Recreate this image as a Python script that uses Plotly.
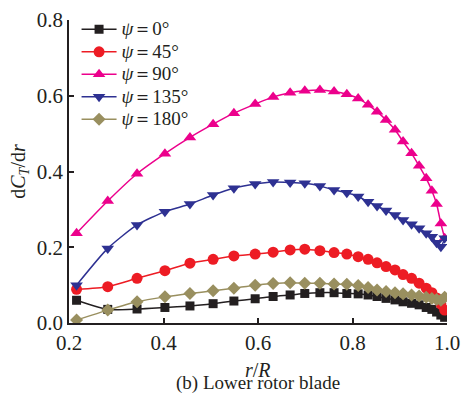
import plotly.graph_objects as go

r_R = [0.216, 0.282, 0.344, 0.403, 0.456, 0.505, 0.549, 0.594, 0.632, 0.668,
       0.699, 0.731, 0.761, 0.788, 0.812, 0.833, 0.852, 0.871, 0.890, 0.907,
       0.925, 0.941, 0.956, 0.968, 0.978, 0.987, 0.995]

psi0 = [0.060, 0.036, 0.037, 0.041, 0.045, 0.051, 0.058, 0.064, 0.070, 0.074,
        0.078, 0.080, 0.080, 0.078, 0.077, 0.074, 0.070, 0.065, 0.061, 0.056,
        0.052, 0.048, 0.041, 0.036, 0.029, 0.021, 0.015]
psi45 = [0.089, 0.096, 0.118, 0.138, 0.158, 0.168, 0.177, 0.182, 0.187, 0.193,
         0.195, 0.191, 0.186, 0.182, 0.175, 0.168, 0.159, 0.149, 0.140, 0.128,
         0.118, 0.105, 0.092, 0.080, 0.066, 0.050, 0.034]
psi90 = [0.237, 0.322, 0.394, 0.447, 0.490, 0.525, 0.554, 0.578, 0.597, 0.608,
         0.613, 0.615, 0.611, 0.604, 0.593, 0.576, 0.558, 0.536, 0.510, 0.479,
         0.448, 0.415, 0.382, 0.349, 0.314, 0.263, 0.224]
psi135 = [0.100, 0.197, 0.259, 0.294, 0.314, 0.338, 0.356, 0.367, 0.372, 0.371,
          0.369, 0.362, 0.351, 0.344, 0.334, 0.320, 0.309, 0.297, 0.285, 0.272,
          0.261, 0.250, 0.237, 0.228, 0.212, 0.201, 0.224]
psi180 = [0.008, 0.034, 0.056, 0.069, 0.078, 0.085, 0.092, 0.100, 0.104, 0.106,
          0.105, 0.105, 0.103, 0.102, 0.099, 0.094, 0.087, 0.083, 0.080, 0.077,
          0.074, 0.071, 0.068, 0.065, 0.062, 0.060, 0.068]

psi_labels = ["0°", "45°", "90°", "135°", "180°"]
series = [psi0, psi45, psi90, psi135, psi180]
colors = ["#231f20", "#ed1c24", "#ec008c", "#2e3192", "#998f5f"]
symbols = ["square", "circle", "triangle-up", "triangle-down", "diamond"]
sizes = [9, 11, 11, 11, 10]

FONT = "Liberation Serif, 'Times New Roman', Times, serif"
INK = "#231f20"

fig = go.Figure()
for lab, ys, c, s, sz in zip(psi_labels, series, colors, symbols, sizes):
    fig.add_trace(go.Scatter(
        x=r_R, y=ys,
        name='<span style="font-size:19px"><i>ψ</i>＝' + lab + '</span>',
        mode="lines+markers",
        line=dict(color=c, width=1.5, shape="spline", smoothing=0.6),
        marker=dict(symbol=s, size=sz, color=c, line=dict(width=0)),
    ))

axis_common = dict(
    showline=True, linecolor=INK, linewidth=1.5,
    ticks="inside", ticklen=5, tickwidth=1.5, tickcolor=INK,
    showgrid=False, zeroline=False, automargin=False,
    tickfont=dict(family=FONT, size=21, color=INK),
)

fig.update_layout(
    width=462, height=395,
    margin=dict(l=69, r=15, t=20, b=72, autoexpand=False),
    paper_bgcolor="white", plot_bgcolor="white",
    font=dict(family=FONT, size=21, color=INK),
    showlegend=True,
    legend=dict(x=0.02, y=1.023, xanchor="left", yanchor="top",
                bgcolor="rgba(0,0,0,0)", itemwidth=35, tracegroupgap=0,
                font=dict(family=FONT, size=15, color=INK)),
    xaxis=dict(range=[0.2, 1.0], tickvals=[0.2, 0.4, 0.6, 0.8, 1.0],
               ticktext=["0.2", "0.4", "0.6", "0.8", "1.0"], **axis_common),
    yaxis=dict(range=[0, 0.8], tickvals=[0, 0.2, 0.4, 0.6, 0.8],
               ticktext=["0.0", "0.2", "0.4", "0.6", "0.8"], **axis_common,
               title=dict(text="d<i>C</i><sub><i>T</i></sub>/d<i>r</i>", standoff=6,
                          font=dict(family=FONT, size=20, color=INK))),
    annotations=[
        dict(text="<i>r</i>/<i>R</i>", xref="paper", yref="paper", x=0.5, y=-0.155,
             xanchor="center", yanchor="middle", showarrow=False,
             font=dict(family=FONT, size=20, color=INK)),
        dict(text="(b) Lower rotor blade", xref="paper", yref="paper", x=0.5, y=-0.198,
             xanchor="center", yanchor="middle", showarrow=False,
             font=dict(family=FONT, size=19, color=INK)),
    ],
)

fig.write_html(
    "out.html",
    config={"displayModeBar": False},
    post_script="document.body.style.margin='0';document.body.style.overflow='hidden';",
)
